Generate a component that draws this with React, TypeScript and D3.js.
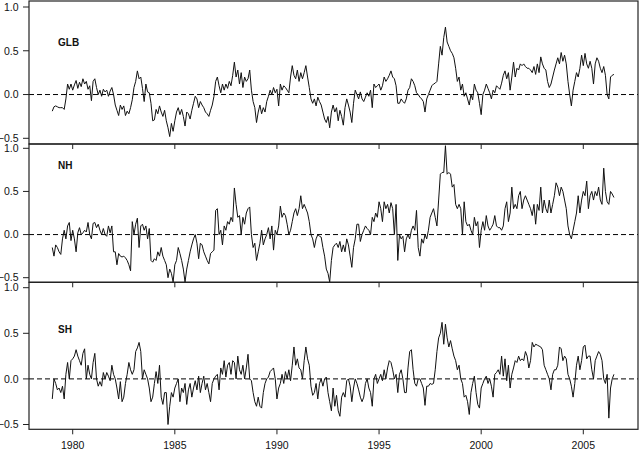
import React from "react";
import * as d3 from "d3";

const startYear = 1979;
const xTickYears = [1980, 1985, 1990, 1995, 2000, 2005];
const yTickValues = [-0.5, 0.0, 0.5, 1.0];
const panelLabels = ["GLB", "NH", "SH"];

// monthly anomalies, Jan 1979 .. Jul 2006
const glb = [
  -0.19, -0.14, -0.13, -0.14, -0.15, -0.15, -0.15, -0.17, -0.05, 0.12, 0.06, 0.12,
  0.05, 0.11, 0.16, 0.07, 0.14, 0.09, 0.18, 0.12, 0.15, 0.06, 0.1, -0.07,
  0.15, 0.18, 0.08, 0.0, 0.05, -0.02, 0.06, 0.03, 0.05, -0.02, 0.04, 0.08,
  0.0, -0.12, -0.18, -0.24, -0.12, -0.17, -0.13, -0.24, -0.19, -0.22, -0.15, -0.06,
  0.08, 0.15, 0.27, 0.18, 0.2, 0.07, -0.08, 0.12, 0.03, 0.02, -0.1, -0.3,
  -0.29, -0.17, -0.22, -0.13, -0.2, -0.25, -0.18, -0.3, -0.38, -0.48, -0.33, -0.42,
  -0.3, -0.2, -0.15, -0.23, -0.17, -0.25, -0.36, -0.2, -0.22, -0.28, -0.18, -0.1,
  -0.02, -0.05, -0.15, -0.08, -0.12, -0.15, -0.2, -0.22, -0.25, -0.18, -0.12, -0.02,
  0.15, 0.2, 0.1, 0.02, 0.12, 0.05, 0.12, 0.07, 0.15, 0.1, 0.22, 0.37,
  0.2, 0.28, 0.12, 0.25, 0.08, 0.2, 0.15, 0.18, 0.28, 0.05, -0.08, -0.15,
  -0.32, -0.2, -0.12, -0.22, -0.15, -0.2, -0.08, -0.02, 0.05, 0.0, 0.08, 0.02,
  0.06, -0.13, 0.12, 0.05, 0.1, 0.08, 0.05, 0.02, 0.2, 0.33, 0.22, 0.18,
  0.28, 0.15, 0.25, 0.18, 0.25, 0.33, 0.2, 0.08, -0.05, -0.1, -0.05, -0.13,
  -0.03, -0.08, -0.12, -0.2, -0.28, -0.32, -0.25, -0.38, -0.2, -0.12, -0.2, -0.15,
  -0.3, -0.18, -0.25, -0.35, -0.15, -0.05, -0.12, -0.2, -0.32, -0.1, 0.05, 0.0,
  -0.05, 0.03, -0.05, -0.08, -0.03, 0.02, -0.02, 0.05, -0.15, 0.12, 0.08, 0.1,
  0.12, 0.05, 0.1, 0.2, 0.15, 0.18, 0.22, 0.27, 0.2, 0.18, 0.1, -0.1,
  -0.1, -0.05, -0.08, -0.1, -0.05, 0.05, 0.08, 0.18, 0.15, 0.1, 0.02, 0.0,
  -0.03, -0.05, -0.08, -0.2, -0.05, 0.0, 0.05, 0.1, 0.12, 0.13, 0.15, 0.35,
  0.55, 0.45, 0.65, 0.77, 0.6, 0.55, 0.5, 0.47, 0.42, 0.3, 0.15, 0.2,
  0.05, 0.12, -0.02, 0.02, -0.05, -0.12, 0.0, -0.06, 0.12, 0.05, 0.02, -0.1,
  -0.23, 0.0, 0.05, 0.12, 0.07, 0.02, -0.05, 0.05, 0.02, 0.1, 0.08, 0.06,
  0.13, 0.22, 0.27, 0.18, 0.25, 0.05, 0.2, 0.37, 0.2, 0.3, 0.28, 0.35,
  0.33, 0.35, 0.32, 0.3, 0.3, 0.28, 0.25, 0.32, 0.23, 0.35, 0.25, 0.43,
  0.35, 0.3, 0.28, 0.15, 0.08, 0.12, 0.2, 0.28, 0.35, 0.42, 0.35, 0.48,
  0.38, 0.45, 0.35, 0.15, 0.0, -0.13, 0.05, 0.15, 0.25, 0.2, 0.3, 0.45,
  0.33, 0.47, 0.35, 0.3, 0.38, 0.3, 0.12, 0.35, 0.42, 0.38, 0.3, 0.25,
  0.32, 0.22, 0.0, -0.05, 0.2, 0.22, 0.23,
];

const nh = [
  -0.15, -0.25, -0.12, -0.15, -0.2, -0.23, -0.05, 0.05, -0.05, 0.1, 0.14, -0.07,
  0.05, -0.05, -0.2, 0.02, 0.08, 0.0, 0.02, 0.05, 0.03, 0.14, 0.0, -0.05,
  0.13, 0.14, 0.08, 0.12, 0.05, 0.0, 0.07, 0.0, -0.02, 0.1, 0.02, 0.1,
  -0.2, -0.2, -0.35, -0.22, -0.25, -0.26, -0.25, -0.27, -0.3, -0.35, -0.42, 0.15,
  0.0, 0.12, 0.19, -0.15, 0.1, 0.12, 0.05, 0.1, -0.05, 0.07, -0.3, -0.32,
  -0.28, -0.3, -0.2, -0.25, -0.15, -0.25, -0.3, -0.35, -0.5, -0.4, -0.45, -0.55,
  -0.35, -0.3, -0.15, -0.22, -0.3, -0.4, -0.55, -0.4, -0.3, -0.2, -0.12, -0.05,
  0.0, -0.1, -0.28, -0.1, -0.12, -0.2, -0.25, -0.3, -0.34, -0.22, -0.2, -0.18,
  0.28, 0.3, 0.0, 0.05, -0.12, 0.1, 0.05, 0.15, 0.12, 0.2, 0.15, 0.54,
  0.35, 0.2, 0.22, 0.0, 0.2, 0.12, 0.25, 0.3, 0.32, 0.0, -0.15, -0.1,
  -0.3, -0.2, -0.1, 0.05, -0.12, -0.05, 0.0, 0.08, -0.05, 0.1, -0.18, 0.05,
  0.0, 0.1, 0.33, 0.2, 0.25, 0.22, 0.12, 0.0, 0.05, 0.15, 0.25, 0.3,
  0.22, 0.3, 0.45, 0.3, 0.35, 0.3, 0.25, 0.15, 0.0, -0.05, -0.15, -0.05,
  0.0, -0.02, -0.03, -0.15, -0.25, -0.4, -0.45, -0.55, -0.3, -0.15, -0.12, -0.1,
  -0.15, -0.08, -0.2, -0.12, -0.2, -0.05, -0.12, -0.25, -0.38, -0.15, -0.05, 0.12,
  0.12, -0.08, 0.0, 0.05, 0.1, 0.07, 0.05, 0.0, 0.2, 0.15, 0.25, 0.2,
  0.38, 0.3, 0.15, 0.38, 0.3, 0.35, 0.25, 0.37, 0.3, 0.0, 0.35, -0.3,
  0.0, -0.05, -0.02, -0.2, -0.05, 0.0, -0.05, 0.05, 0.1, 0.05, 0.28, -0.15,
  -0.25, -0.05, -0.1, 0.0, -0.05, 0.05, 0.2, 0.25, 0.3, 0.2, 0.1, 0.4,
  0.7, 0.72, 0.72, 1.03, 0.7, 0.72, 0.7, 0.55, 0.58, 0.35, 0.3, 0.35,
  0.3, 0.0, 0.38, 0.15, 0.1, 0.12, 0.05, 0.0, 0.2, 0.1, 0.15, -0.15,
  0.05, 0.15, 0.05, 0.22, 0.1, 0.05, 0.08, 0.12, 0.22, 0.1, 0.08, 0.08,
  0.05, 0.1, 0.3, 0.38, 0.15, 0.25, 0.55, 0.3, 0.35, 0.3, 0.45, 0.5,
  0.3, 0.4, 0.45, 0.4, 0.35, 0.3, 0.22, 0.35, 0.12, 0.35, 0.28, 0.55,
  0.25, 0.4, 0.3, 0.25, 0.4, 0.25, 0.35, 0.45, 0.6, 0.55, 0.45, 0.55,
  0.5, 0.4, 0.3, 0.1, 0.0, -0.05, 0.05, 0.15, 0.25, 0.45, 0.25, 0.4,
  0.5, 0.45, 0.62, 0.3, 0.45, 0.5, 0.4, 0.5, 0.45, 0.55, 0.4, 0.35,
  0.77, 0.5, 0.38, 0.35, 0.5, 0.47, 0.43,
];

const sh = [
  -0.22, 0.0, -0.05, -0.12, -0.1, -0.15, -0.08, -0.22, 0.05, 0.18, 0.0, 0.2,
  0.22, 0.25, 0.32, 0.25, 0.2, 0.15, 0.28, 0.33, 0.0, 0.15, 0.05, 0.0,
  0.18, 0.28, 0.0, -0.08, -0.03, -0.08, 0.07, 0.0, 0.07, 0.03, -0.02, 0.15,
  0.05, 0.0, -0.1, -0.22, -0.03, -0.25, -0.2, -0.05, 0.05, 0.18, 0.1, 0.05,
  0.1, 0.3, 0.34, 0.4, 0.3, 0.0, 0.1, 0.05, 0.0, -0.1, -0.25, -0.2,
  -0.05, 0.08, -0.05, 0.15, -0.2, -0.28, -0.15, -0.15, -0.5, -0.3, -0.15, -0.2,
  -0.1, -0.05, 0.0, -0.25, -0.1, -0.15, -0.05, -0.28, -0.12, -0.05, -0.2, -0.1,
  -0.02, -0.12, 0.03, -0.15, -0.05, 0.03, -0.12, -0.05, -0.15, -0.25, -0.05, 0.0,
  0.03, 0.05, -0.12, 0.12, 0.05, 0.2, 0.02, 0.15, 0.18, 0.05, 0.2, 0.18,
  0.0, 0.25, 0.1, 0.05, 0.15, 0.0, 0.12, 0.27, 0.0, -0.02, -0.15, -0.25,
  -0.3, -0.2, -0.3, -0.32, -0.15, -0.05, 0.0, 0.02, 0.08, 0.1, 0.12, 0.0,
  -0.22, -0.1, -0.05, 0.05, -0.05, 0.08, 0.0, 0.1, -0.02, 0.15, 0.35, 0.15,
  0.22, 0.12, 0.1, 0.0, 0.2, 0.35, 0.22, 0.15, -0.08, -0.18, -0.15, -0.05,
  -0.22, -0.05, 0.0, -0.08, 0.0, 0.02, -0.15, -0.25, -0.35, -0.1, -0.3, -0.18,
  -0.35, -0.41, -0.2, -0.15, -0.2, -0.02, 0.0, -0.08, -0.25, -0.1, 0.0, -0.05,
  -0.12, -0.2, -0.25, -0.2, -0.05, 0.0, -0.1, -0.15, -0.3, 0.0, 0.05, -0.05,
  0.0, 0.05, -0.02, 0.1, 0.0, 0.12, 0.2, 0.18, 0.1, 0.0, 0.05, -0.15,
  0.05, 0.1, 0.0, -0.15, -0.15, 0.12, 0.3, 0.32, 0.1, -0.05, -0.08, 0.0,
  0.0, -0.05, -0.1, -0.29, -0.08, -0.08, -0.05, -0.06, -0.05, 0.1, 0.3, 0.45,
  0.5, 0.62, 0.38, 0.6, 0.45, 0.35, 0.42, 0.33, 0.25, 0.2, 0.1, 0.15,
  0.0, -0.05, -0.2, -0.18, -0.25, -0.39, -0.15, -0.05, 0.03, -0.15, -0.28, -0.32,
  -0.1, -0.05, 0.0, 0.03, -0.05, 0.0, -0.08, -0.2, 0.05, 0.07, 0.1, 0.05,
  0.25, 0.03, 0.22, -0.02, 0.15, -0.1, 0.05, 0.12, 0.2, 0.18, 0.25, 0.2,
  0.22, 0.2, 0.3, 0.25, 0.12, 0.2, 0.4, 0.35, 0.38, 0.37, 0.36, 0.35,
  0.32, 0.15, 0.1, 0.05, 0.0, -0.12, 0.05, 0.1, 0.1, 0.15, 0.35, 0.33,
  0.2, 0.25, 0.22, 0.05, 0.0, -0.08, -0.2, -0.05, 0.15, 0.25, 0.1, 0.2,
  0.35, 0.37, 0.22, 0.25, 0.25, 0.1, 0.0, 0.2, 0.25, 0.3, 0.27, 0.2,
  0.0, -0.05, 0.05, -0.43, -0.1, 0.0, 0.05,
];

const seriesList = [glb, nh, sh];

// panel geometry (pixels)
const frameLeft = 29;
const frameRight = 638;
const panelGeom = [
  { top: 1, bottom: 144, y1: 7, yM: 138.3, labelY: 45.7 },
  { top: 144, bottom: 282.3, y1: 148.3, yM: 277.7, labelY: 169.3 },
  { top: 282.3, bottom: 429.3, y1: 287.7, yM: 424.5, labelY: 333.3 },
];

const font = "'Liberation Sans', Arial, sans-serif";

export default function App() {
  const x = d3.scaleLinear().domain([1980, 2005]).range([72.7, 583.3]);

  return (
    <div style={{ position: "fixed", left: 0, top: 0 }}>
      <svg width={640} height={455} style={{ display: "block", background: "#fff" }}>
        <rect x={0} y={0} width={640} height={455} fill="#fff" />
        {panelGeom.map((g, p) => {
          const y = d3.scaleLinear().domain([-0.5, 1.0]).range([g.yM, g.y1]);
          const data = seriesList[p];
          const line = d3
            .line<number>()
            .x((_, i) => x(startYear + i / 12))
            .y((v) => y(v));
          return (
            <g key={p}>
              <line
                x1={frameLeft}
                x2={frameRight}
                y1={y(0)}
                y2={y(0)}
                stroke="#000"
                strokeWidth={1}
                strokeDasharray="5 3"
              />
              <path d={line(data) || ""} fill="none" stroke="#111" strokeWidth={1} strokeLinejoin="round" />
              <rect
                x={frameLeft}
                y={g.top}
                width={frameRight - frameLeft}
                height={g.bottom - g.top}
                fill="none"
                stroke="#222"
                strokeWidth={1.2}
              />
              {yTickValues.map((t) => (
                <g key={t}>
                  <line x1={frameLeft - 6} x2={frameLeft} y1={y(t)} y2={y(t)} stroke="#222" strokeWidth={1} />
                  <text
                    x={18.5}
                    y={y(t)}
                    dy="0.36em"
                    textAnchor="end"
                    fontFamily={font}
                    fontSize={10.5}
                    fill="#111"
                  >
                    {d3.format(".1f")(t)}
                  </text>
                </g>
              ))}
              {xTickYears.map((yr) => (
                <line key={yr} x1={x(yr)} x2={x(yr)} y1={g.bottom} y2={g.bottom + 5} stroke="#222" strokeWidth={1} />
              ))}
              <text x={58} y={g.labelY} fontFamily={font} fontSize={10} fontWeight="bold" fill="#111">
                {panelLabels[p]}
              </text>
            </g>
          );
        })}
        {xTickYears.map((yr) => (
          <text key={yr} x={x(yr)} y={449} textAnchor="middle" fontFamily={font} fontSize={10.5} fill="#111">
            {yr}
          </text>
        ))}
      </svg>
    </div>
  );
}
